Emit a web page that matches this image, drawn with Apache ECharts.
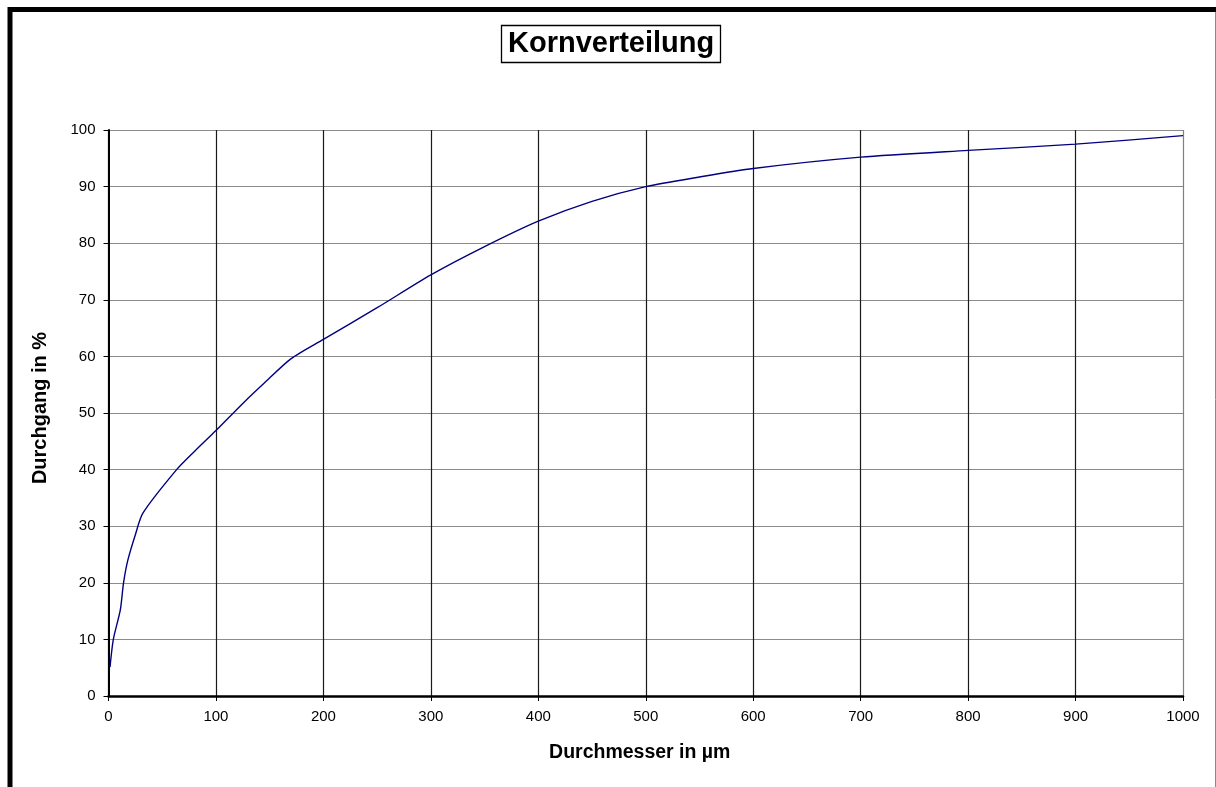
<!DOCTYPE html>
<html>
<head>
<meta charset="utf-8">
<script src="https://cdn.jsdelivr.net/npm/echarts@6/dist/echarts.min.js"></script>
<style>
html,body{margin:0;padding:0;background:#fff;}
#c{width:1216px;height:787px;}
</style>
</head>
<body>
<div id="c"></div>
<script>
const diameter = [1.4, 4.5, 11, 14, 18, 25, 32, 63, 80, 100, 125, 145, 170, 200, 250, 300, 350, 400, 450, 500, 550, 600, 700, 800, 900, 1000];
const passing  = [5.1, 10, 15.2, 20, 24, 28.5, 32.3, 39.9, 43.2, 46.9, 51.7, 55.3, 59.6, 63, 68.6, 74.4, 79.4, 83.9, 87.4, 90, 91.7, 93.2, 95.2, 96.4, 97.5, 99.0];
const xTicks = [0, 100, 200, 300, 400, 500, 600, 700, 800, 900, 1000];
const yTicks = [0, 10, 20, 30, 40, 50, 60, 70, 80, 90, 100];

const chart = echarts.init(document.getElementById('c'), null, {renderer: 'canvas'});
const FONT = '"Liberation Sans", Arial, sans-serif';
const vColors = xTicks.map((v, i) => i === xTicks.length - 1 ? '#808080' : '#1a1a1a');

chart.setOption({
  backgroundColor: '#fff',
  animation: false,
  title: {
    text: 'Kornverteilung',
    left: 501, top: 25,
    padding: [4, 7, 5, 7],
    borderColor: '#000', borderWidth: 1.3,
    textStyle: {fontFamily: FONT, fontWeight: 'bold', fontSize: 29, color: '#000'}
  },
  grid: {left: 108.5, right: 33, top: 130, bottom: 91, containLabel: false},
  xAxis: {
    type: 'value', min: 0, max: 1000, interval: 100,
    name: 'Durchmesser in µm', nameLocation: 'middle', nameGap: 47,
    nameTextStyle: {fontFamily: FONT, fontWeight: 'bold', fontSize: 19.5, color: '#000', padding: [0, 12, 0, 0]},
    axisLine: {show: true, onZero: false, lineStyle: {color: '#000', width: 2.5}},
    axisTick: {show: true, length: 5, lineStyle: {color: '#000', width: 1}},
    axisLabel: {fontFamily: FONT, fontSize: 15, color: '#000', margin: 13,
      formatter: v => xTicks.includes(v) ? String(v) : ''},
    splitLine: {show: true, lineStyle: {color: vColors, width: 1.2}}
  },
  yAxis: {
    type: 'value', min: 0, max: 100, interval: 10,
    name: 'Durchgang in %', nameLocation: 'middle', nameGap: 58, nameRotate: 90,
    nameTextStyle: {fontFamily: FONT, fontWeight: 'bold', fontSize: 20, color: '#000', padding: [0, 0, 0, 10]},
    axisLine: {show: true, onZero: false, lineStyle: {color: '#000', width: 2}},
    axisTick: {show: true, length: 5, lineStyle: {color: '#000', width: 1}},
    axisLabel: {fontFamily: FONT, fontSize: 15, color: '#000', margin: 13,
      formatter: v => yTicks.includes(v) ? String(v) : ''},
    splitLine: {show: true, lineStyle: {color: '#8c8c8c', width: 1.2}}
  },
  graphic: [
    {type: 'rect', silent: true, z: 100,
      shape: {x: 10, y: 9.5, width: 1300, height: 900},
      style: {fill: 'none', stroke: '#000', lineWidth: 5}},
    {type: 'line', silent: true, z: 100,
      shape: {x1: 1215.5, y1: 12, x2: 1215.5, y2: 787},
      style: {stroke: '#8a8a8a', lineWidth: 1}}
  ],
  series: [{
    type: 'line',
    data: diameter.map((d, i) => [d, passing[i]]),
    showSymbol: false,
    smooth: 0.25,
    lineStyle: {color: '#000080', width: 1.4},
    z: 5
  }]
});
</script>
</body>
</html>
